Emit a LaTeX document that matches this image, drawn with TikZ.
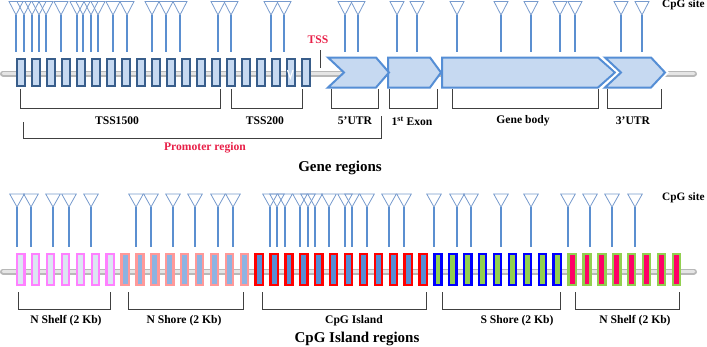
\documentclass[tikz,border=0pt]{standalone}
\usepackage{fontspec}
\setmainfont{Liberation Serif}
\definecolor{gbord}{RGB}{56,93,138}
\definecolor{gfill}{RGB}{198,217,241}
\definecolor{chev}{RGB}{85,142,213}
\definecolor{stemc}{RGB}{91,143,208}
\definecolor{tric}{RGB}{120,155,205}
\definecolor{regred}{RGB}{232,32,72}
\definecolor{pinkb}{RGB}{255,128,255}
\definecolor{pinkf}{RGB}{220,230,242}
\definecolor{salb}{RGB}{255,153,153}
\definecolor{salf}{RGB}{141,179,226}
\definecolor{redb}{RGB}{255,0,0}
\definecolor{redf}{RGB}{85,142,213}
\definecolor{blub}{RGB}{0,0,255}
\definecolor{grnf}{RGB}{146,208,80}
\definecolor{magf}{RGB}{255,0,102}
\begin{document}
\begin{tikzpicture}[x=1pt,y=-1pt,
  genebox/.style={draw=gbord,fill=gfill,line width=2pt,minimum width=7.5pt,minimum height=27pt,inner sep=0pt},
  cbox/.style={line width=2.3pt,minimum width=7.2pt,minimum height=30.7pt,inner sep=0pt},
  pinkbox/.style={cbox,draw=pinkb,fill=pinkf},
  salbox/.style={cbox,draw=salb,fill=salf},
  redbox/.style={cbox,draw=redb,fill=redf},
  blubox/.style={cbox,draw=blub,fill=grnf},
  grnbox/.style={cbox,draw=grnf,fill=magf},
  chevron/.style={draw=chev,fill=gfill,line width=2pt,line join=miter},
  tri/.style={draw=tric,line width=0.8pt},
  stemline/.style={draw=stemc,line width=1.2pt},
  brack/.style={draw=black!75,line width=0.8pt},
  lab/.style={font=\bfseries\fontsize{11.6}{13}\selectfont,inner sep=0pt},
  title/.style={font=\bfseries\fontsize{15}{18}\selectfont,inner sep=0pt},
  site/.style={font=\bfseries\fontsize{11.3}{12}\selectfont,inner sep=0pt,anchor=west},
  backouter/.style={line width=6pt,line cap=round,draw=black!28},
  backinner/.style={line width=2.5pt,line cap=round,draw=black!10}
]
\useasboundingbox (0,0) rectangle (707,346);

% ================= Gene regions =================
\coordinate (bbL) at (3,73.5);
\coordinate (bbR) at (694,73.5);
\draw[backouter] (bbL) -- (bbR);
\draw[backinner] (bbL) -- (bbR);

% CpG sites (top)
\foreach \x in {16,24,32,39,46,61,77,83,91,98,113,127,152,166,180,218,231,271,284,345,358,397,417,457,501,531,560,575,621,642}{
  \draw[tri] ({\x-7},1.5) -- ({\x+7},1.5) -- (\x,15) -- cycle;
  \draw[stemline] (\x,15) -- (\x,52);
}
\node[site] (site1) at (662,5) {CpG site};

% promoter boxes
\foreach \i in {0,...,19}
  \node[genebox] (gb\i) at ({20.75+15*\i},72.5) {};
\draw[white,line width=1.2pt] (287.5,70) -- (290.3,78) -- (293,70);

% TSS
\coordinate (tssT) at (320,50);
\coordinate (tssB) at (320,68);
\draw[black!75,line width=0.9pt] (tssT) -- (tssB);
\node[lab,text=regred] (tss) at (318,40) {TSS};

% exon chevrons
\draw[chevron] (388,57.5) -- (430,57.5) -- (441,72.5) -- (430,87.5) -- (388,87.5) -- cycle;
\draw[chevron] (328,57.5) -- (376,57.5) -- (389,72.5) -- (376,87.5) -- (328,87.5) -- (344,72.5) -- cycle;
\draw[chevron] (442,57.5) -- (598,57.5) -- (615,72.5) -- (598,87.5) -- (442,87.5) -- cycle;
\draw[white,line width=6pt,line join=miter] (605,57.5) -- (651,57.5) -- (665,72.5) -- (651,87.5) -- (605,87.5) -- (621,72.5) -- cycle;
\draw[chevron] (605,57.5) -- (651,57.5) -- (665,72.5) -- (651,87.5) -- (605,87.5) -- (621,72.5) -- cycle;

% brackets (gene)
\draw[brack] (20,89) -- (20,108) -- (220,108) -- (220,89);
\draw[brack] (231,89) -- (231,108) -- (302,108) -- (302,89);
\draw[brack] (331,89) -- (331,108) -- (378,108) -- (378,89);
\draw[brack] (389,89) -- (389,108) -- (437,108) -- (437,89);
\draw[brack] (452,89) -- (452,108) -- (598,108) -- (598,89);
\draw[brack] (607,89) -- (607,108) -- (661,108) -- (661,89);
\draw[brack] (23,122) -- (23,138) -- (381,138) -- (381,116);

\node[lab] (l1500) at (117,121) {TSS1500};
\node[lab] (l200) at (265,121) {TSS200};
\node[lab] (l5utr) at (355,121) {5’UTR};
\node[lab] (lexon) at (412,121) {1\textsuperscript{st} Exon};
\node[lab] (lbody) at (523,121) {Gene body};
\node[lab] (l3utr) at (633,121) {3’UTR};
\node[lab,text=regred] (lprom) at (205,148) {Promoter region};
\node[title] (tgene) at (340,168) {Gene regions};

% ================= CpG Island regions =================
\coordinate (cbL) at (3,271.5);
\coordinate (cbR) at (694,271.5);
\draw[backouter] (cbL) -- (cbR);
\draw[backinner] (cbL) -- (cbR);

\foreach \x in {17,31,53,69,91,136,151,173,195,218,233,270,277,285,300,308,315,329,345,352,367,389,404,434,457,471,501,531,568,590,612,635}{
  \draw[tri] ({\x-7.3},194) -- ({\x+7.3},194) -- (\x,207) -- cycle;
  \draw[stemline] (\x,207) -- (\x,247);
}
\node[site] (site2) at (662,198) {CpG site};

\foreach \i in {0,...,6}   \node[pinkbox] (cb\i) at ({20.75+14.9*\i},269.5) {};
\foreach \i in {7,...,15}  \node[salbox]  (cb\i) at ({20.75+14.9*\i},269.5) {};
\foreach \i in {16,...,27} \node[redbox]  (cb\i) at ({20.75+14.9*\i},269.5) {};
\foreach \i in {28,...,36} \node[blubox]  (cb\i) at ({20.75+14.9*\i},269.5) {};
\foreach \i in {37,...,44} \node[grnbox]  (cb\i) at ({20.75+14.9*\i},269.5) {};

\draw[brack] (18,292) -- (18,309) -- (110,309) -- (110,292);
\draw[brack] (128,292) -- (128,309) -- (243,309) -- (243,292);
\draw[brack] (262,292) -- (262,309) -- (426,309) -- (426,292);
\draw[brack] (442,292) -- (442,309) -- (560,309) -- (560,292);
\draw[brack] (575,292) -- (575,309) -- (679,309) -- (679,292);

\node[lab] (lns1) at (66,321) {N Shelf (2 Kb)};
\node[lab] (lnsh) at (184,321) {N Shore (2 Kb)};
\node[lab] (lisl) at (354,321) {CpG Island};
\node[lab] (lssh) at (517,321) {S Shore (2 Kb)};
\node[lab] (lns2) at (635,321) {N Shelf (2 Kb)};
\node[title] (tcpg) at (357,338.5) {CpG Island regions};
\end{tikzpicture}
\end{document}
